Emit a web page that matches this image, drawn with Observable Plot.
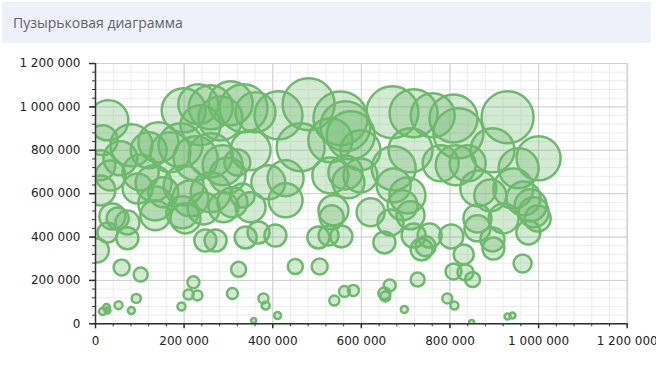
<!DOCTYPE html>
<html><head><meta charset="utf-8">
<script src="https://cdn.jsdelivr.net/npm/d3@7"></script>
<script src="https://cdn.jsdelivr.net/npm/@observablehq/plot@0.6"></script>
<style>
html,body{margin:0;padding:0;background:#fff;}
#wrap{width:656px;height:365px;position:relative;overflow:hidden;}
#title{position:absolute;left:2px;top:2px;width:649px;height:41px;background:#eef1f8;font-family:"Open Sans";font-size:14px;color:#5d6371;line-height:41px;padding-left:11px;box-sizing:border-box;}
#chart{position:absolute;left:0;top:44px;}
</style></head><body>
<div id="wrap"><div id="title">Пузырьковая диаграмма</div><div id="chart"></div></div>
<script>
const xs = [29000,199000,232000,260000,305000,334000,361000,413000,481000,553000,564000,670000,718000,761000,808000,930000,282000,237000,
16000,81000,56000,11000,120000,142000,169000,192000,226000,260000,287000,298000,463000,530000,576000,673000,711000,779000,813000,840000,819000,896000,955000,1000000,320000,350000,598000,
34000,11000,102000,131000,95000,153000,199000,214000,135000,196000,260000,244000,289000,309000,332000,390000,429000,429000,350000,530000,564000,571000,598000,537000,621000,673000,704000,693000,711000,864000,891000,943000,966000,982000,989000,921000,862000,998000,666000,135000,203000,533000,
526000,555000,652000,718000,754000,736000,745000,803000,862000,896000,898000,977000,248000,271000,339000,368000,406000,503000,72000,27000,3000,38000,50000,72000,
59000,102000,323000,451000,506000,727000,831000,808000,835000,851000,964000,221000,210000,230000,309000,379000,384000,539000,562000,582000,652000,664000,654000,794000,810000,92000,52000,81000,16000,25000,27000,194000,411000,357000,697000,849000,930000,941000];
const ys = [938000,984000,1012000,998000,1017000,994000,975000,961000,1012000,947000,911000,975000,971000,961000,947000,952000,947000,915000,
846000,823000,763000,731000,800000,837000,791000,823000,763000,777000,731000,684000,814000,846000,869000,717000,800000,740000,731000,740000,878000,800000,717000,763000,744000,800000,800000,
684000,615000,698000,647000,624000,606000,638000,578000,555000,514000,606000,532000,537000,560000,592000,652000,671000,569000,537000,684000,698000,652000,684000,523000,514000,638000,592000,546000,500000,624000,592000,624000,578000,546000,514000,486000,486000,486000,467000,500000,486000,491000,
407000,403000,375000,407000,407000,343000,357000,403000,440000,389000,347000,421000,384000,384000,398000,421000,407000,398000,394000,421000,338000,495000,486000,467000,
260000,227000,251000,264000,264000,204000,320000,241000,237000,204000,278000,191000,135000,131000,140000,117000,84000,107000,149000,154000,140000,177000,126000,117000,84000,117000,86000,61000,57000,75000,61000,80000,38000,15000,66000,6000,34000,38000];
const zs = [200,220,200,220,220,240,200,240,260,270,250,260,240,220,240,260,220,200,
150,210,170,150,180,200,200,220,220,220,200,180,240,220,240,220,220,180,200,180,250,220,200,220,130,200,200,
150,150,180,180,150,150,200,180,170,160,200,160,150,150,120,170,180,170,150,180,170,160,170,150,140,170,180,150,140,180,160,200,170,160,150,150,140,130,130,150,150,120,
100,110,110,120,120,110,100,120,130,120,110,120,110,110,110,110,110,110,110,100,120,130,110,120,
80,70,75,75,80,70,100,80,80,75,90,60,50,50,55,50,40,50,55,55,60,60,50,50,40,45,40,35,35,35,30,40,35,25,35,25,30,30];
const xTicks = [0,200000,400000,600000,800000,1000000,1200000];
const yTicks = [0,200000,400000,600000,800000,1000000,1200000];
const minorTicks = d3.range(0, 1200001, 40000);

const fmt = v => d3.format(",")(v).replace(/,/g, " ");
const data = xs.map((x, i) => ({x, y: ys[i], z: zs[i]}));
const green = "#6dba6d";

const chart = Plot.plot({
  width: 656, height: 321,
  marginLeft: 95, marginRight: 29.3, marginTop: 19, marginBottom: 41.7,
  x: {domain: [0, 1200000], label: null},
  y: {domain: [0, 1200000], label: null},
  r: {type: "linear", domain: [0, 280], range: [0, 28]},
  style: {fontFamily: "DejaVu Sans", fontSize: "12px", color: "#222", background: "transparent"},
  marks: [
    Plot.gridX(minorTicks, {stroke: "#ececec", strokeOpacity: 1}),
    Plot.gridY(minorTicks, {stroke: "#ececec", strokeOpacity: 1}),
    Plot.gridX(xTicks, {stroke: "#cfcfcf", strokeOpacity: 1}),
    Plot.gridY(yTicks, {stroke: "#cfcfcf", strokeOpacity: 1}),
    Plot.frame({stroke: "#cfcfcf"}),
    Plot.dot(data, {x: "x", y: "y", r: "z", fill: green, fillOpacity: 0.3, stroke: green, strokeWidth: 2.5, clip: true}),
    Plot.ruleX([0], {stroke: "#333", strokeWidth: 1.5}),
    Plot.ruleY([0], {stroke: "#333", strokeWidth: 1.5}),
    Plot.axisY(minorTicks, {tickSize: 3, tickFormat: () => "", stroke: "#333", label: null}),
    Plot.axisY(yTicks, {tickSize: 6, tickPadding: 9, tickFormat: fmt, stroke: "#333", strokeWidth: 1.5, label: null}),
    Plot.axisX(minorTicks, {tickSize: 3, tickFormat: () => "", stroke: "#333", label: null}),
    Plot.axisX(xTicks, {tickSize: 5, tickPadding: 8, tickFormat: fmt, stroke: "#333", strokeWidth: 1.5, label: null})
  ]
});
document.getElementById("chart").appendChild(chart);
</script>
</body></html>
